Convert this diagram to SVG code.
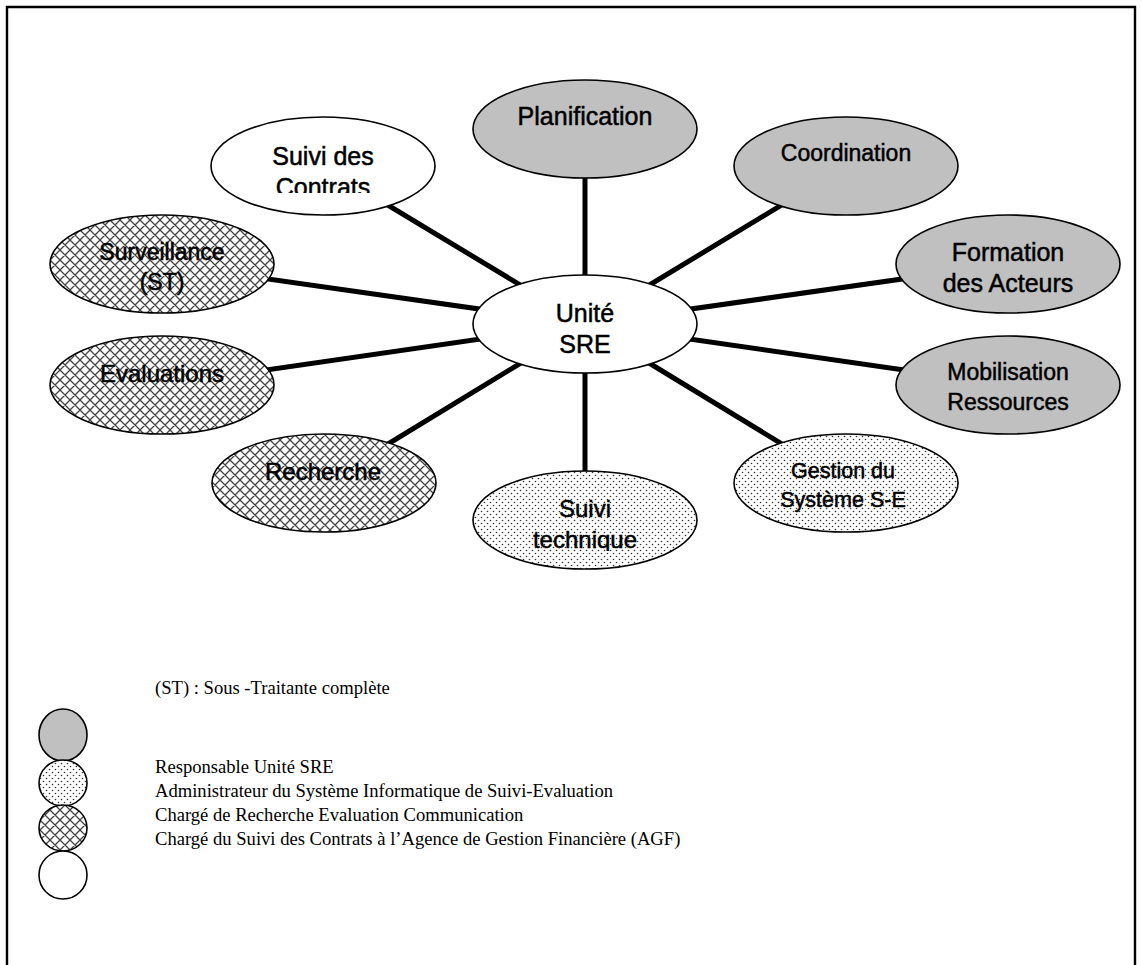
<svg xmlns="http://www.w3.org/2000/svg" width="1142" height="965" viewBox="0 0 1142 965">
<defs>
<pattern id="dots" width="6" height="6" patternUnits="userSpaceOnUse">
<rect width="6" height="6" fill="#fff"/>
<circle cx="1.5" cy="1.5" r="0.8" fill="#333"/>
<circle cx="4.5" cy="4.5" r="0.8" fill="#333"/>
</pattern>
<pattern id="cross" width="10" height="10" patternUnits="userSpaceOnUse">
<rect width="10" height="10" fill="#fff"/>
<path d="M0,0 L10,10 M10,0 L0,10 M-1,9 L1,11 M9,-1 L11,1 M-1,1 L1,-1 M9,11 L11,9" stroke="#444" stroke-width="1.3"/>
</pattern>
<clipPath id="clipContrats"><rect x="200" y="100" width="250" height="93"/></clipPath>
<clipPath id="clipTech"><rect x="460" y="460" width="250" height="91"/></clipPath>
</defs>
<style>
.n{stroke:#000;stroke-width:1.6}
.gray{fill:#c0c0c0}
.white{fill:#fff}
.dot{fill:url(#dots)}
.hatch{fill:url(#cross)}
.t{font-family:"Liberation Sans",Arial,sans-serif;fill:#000;stroke:#000;stroke-width:0.5;text-anchor:middle}
.c{stroke:#000;stroke-width:5;fill:none}
.lg{font-family:"Liberation Serif","Times New Roman",serif;font-size:18.6px;fill:#000}
</style>
<path d="M7,966 V7 H1135 V966" fill="none" stroke="#000" stroke-width="2.4"/>
<g id="connectors">
<line class="c" x1="585" y1="324" x2="323" y2="166"/>
<line class="c" x1="585" y1="324" x2="585" y2="129"/>
<line class="c" x1="585" y1="324" x2="846" y2="166"/>
<line class="c" x1="585" y1="324" x2="1008" y2="264"/>
<line class="c" x1="585" y1="324" x2="1008" y2="385"/>
<line class="c" x1="585" y1="324" x2="846" y2="483"/>
<line class="c" x1="585" y1="324" x2="585" y2="520"/>
<line class="c" x1="585" y1="324" x2="324" y2="483"/>
<line class="c" x1="585" y1="324" x2="162" y2="385"/>
<line class="c" x1="585" y1="324" x2="162" y2="264"/>
</g>
<g id="planification">
<ellipse class="n gray" cx="585" cy="129" rx="112" ry="49"/>
<text class="t" x="585" y="125" font-size="25">Planification</text>
</g>
<g id="suivi-contrats">
<ellipse class="n white" cx="323" cy="166" rx="112" ry="49"/>
<g clip-path="url(#clipContrats)">
<text class="t" x="323" y="165" font-size="25">Suivi des</text>
<text class="t" x="323" y="196" font-size="25">Contrats</text>
</g>
</g>
<g id="coordination">
<ellipse class="n gray" cx="846" cy="166" rx="112" ry="49"/>
<text class="t" x="846" y="161" font-size="23">Coordination</text>
</g>
<g id="formation">
<ellipse class="n gray" cx="1008" cy="264" rx="112" ry="49"/>
<text class="t" x="1008" y="261" font-size="25">Formation</text>
<text class="t" x="1008" y="292" font-size="25">des Acteurs</text>
</g>
<g id="mobilisation">
<ellipse class="n gray" cx="1008" cy="385" rx="112" ry="49"/>
<text class="t" x="1008" y="380" font-size="23">Mobilisation</text>
<text class="t" x="1008" y="410" font-size="23">Ressources</text>
</g>
<g id="gestion">
<ellipse class="n dot" cx="846" cy="483" rx="112" ry="49"/>
<text class="t" x="843" y="478" font-size="21.5">Gestion du</text>
<text class="t" x="843" y="507" font-size="21.5">Système S-E</text>
</g>
<g id="suivi-technique">
<ellipse class="n dot" cx="585" cy="520" rx="112" ry="49"/>
<g clip-path="url(#clipTech)">
<text class="t" x="585" y="517" font-size="24">Suivi</text>
<text class="t" x="585" y="548" font-size="24">technique</text>
</g>
</g>
<g id="recherche">
<ellipse class="n hatch" cx="324" cy="483" rx="112" ry="49"/>
<text class="t" x="323" y="480" font-size="24">Recherche</text>
</g>
<g id="evaluations">
<ellipse class="n hatch" cx="162" cy="385" rx="112" ry="49"/>
<text class="t" x="162" y="382" font-size="24">Evaluations</text>
</g>
<g id="surveillance">
<ellipse class="n hatch" cx="162" cy="264" rx="112" ry="49"/>
<text class="t" x="162" y="260" font-size="23">Surveillance</text>
<text class="t" x="162" y="290" font-size="23">(ST)</text>
</g>
<g id="unite-sre">
<ellipse class="n white" cx="585" cy="324" rx="112" ry="49"/>
<text class="t" x="585" y="322" font-size="25">Unité</text>
<text class="t" x="585" y="353" font-size="25">SRE</text>
</g>
<g id="legend">
<text class="lg" x="155" y="694">(ST) : Sous -Traitante complète</text>
<ellipse class="n gray" cx="63" cy="735" rx="24" ry="26"/>
<ellipse class="n dot" cx="63" cy="783" rx="24" ry="23"/>
<ellipse class="n hatch" cx="63" cy="828" rx="24" ry="23"/>
<ellipse class="n white" cx="63" cy="875" rx="24" ry="24"/>
<text class="lg" x="155" y="773">Responsable Unité SRE</text>
<text class="lg" x="155" y="797">Administrateur du Système Informatique de Suivi-Evaluation</text>
<text class="lg" x="155" y="821">Chargé de Recherche Evaluation Communication</text>
<text class="lg" x="155" y="845">Chargé du Suivi des Contrats à l’Agence de Gestion Financière (AGF)</text>
</g>
</svg>
